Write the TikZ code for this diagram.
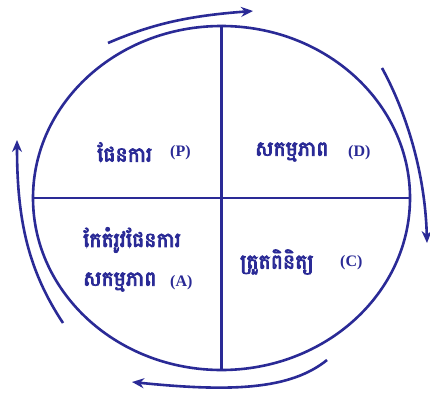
\documentclass[tikz,border=0pt]{standalone}
\usepackage{fontspec}
\usetikzlibrary{shapes.geometric,arrows.meta}
\newfontfamily\khmerfont[Script=Khmer,FakeBold=4]{Battambang}
\newfontfamily\latinfont{Liberation Serif}
\definecolor{pdca}{RGB}{42,42,150}
\begin{document}
\begin{tikzpicture}[x=1pt,y=-1pt,
  line/.style={draw=pdca,line width=2.6pt},
  cyc/.style={draw=pdca,line width=2.6pt,-{Stealth[length=12pt,width=10pt]}},
  kh/.style={text=pdca,font=\khmerfont\fontsize{20.5}{24}\selectfont,inner sep=0pt,anchor=west},
  lt/.style={text=pdca,font=\latinfont\bfseries\fontsize{16}{18}\selectfont,inner sep=0pt,anchor=west}]
\fill[white] (0,0) rectangle (430,396);
\useasboundingbox (0,0) rectangle (430,396);
\node[ellipse,line,minimum width=377pt,minimum height=344pt,inner sep=0pt] (E) at (221.5,198) {};
\draw[line] (E.north) -- (E.south);
\draw[line] (E.west) -- (E.east);
% texts
\node[kh] (p) at (97,152) {ផែនការ};
\node[lt] (pl) at (170,153) {(P)};
\node[kh] (d) at (255,152) {សកម្មភាព};
\node[lt] (dl) at (348,153) {(D)};
\node[kh] (a1) at (83,240) {កែតំរូវផែនការ};
\node[kh] (a2) at (83,282) {សកម្មភាព};
\node[lt] (al) at (170,283) {(A)};
\node[kh] (c) at (240,262) {ត្រួតពិនិត្យ};
\node[lt] (cl) at (340,263) {(C)};
% cycle arrows
\coordinate (t1) at (108,43); \coordinate (t2) at (253,11);
\coordinate (r1) at (382,68); \coordinate (r2) at (427,243);
\coordinate (b1) at (327,360); \coordinate (b2) at (132,382);
\coordinate (l1) at (63,323); \coordinate (l2) at (17,140);
\draw[cyc] (t1) .. controls (150,25) and (185,16) .. (t2);
\draw[cyc] (r1) .. controls (405,110) and (425,170) .. (r2);
\draw[cyc] (b1) .. controls (290,390) and (230,392) .. (b2);
\draw[cyc] (l1) .. controls (28,270) and (17,220) .. (l2);
\end{tikzpicture}
\end{document}
